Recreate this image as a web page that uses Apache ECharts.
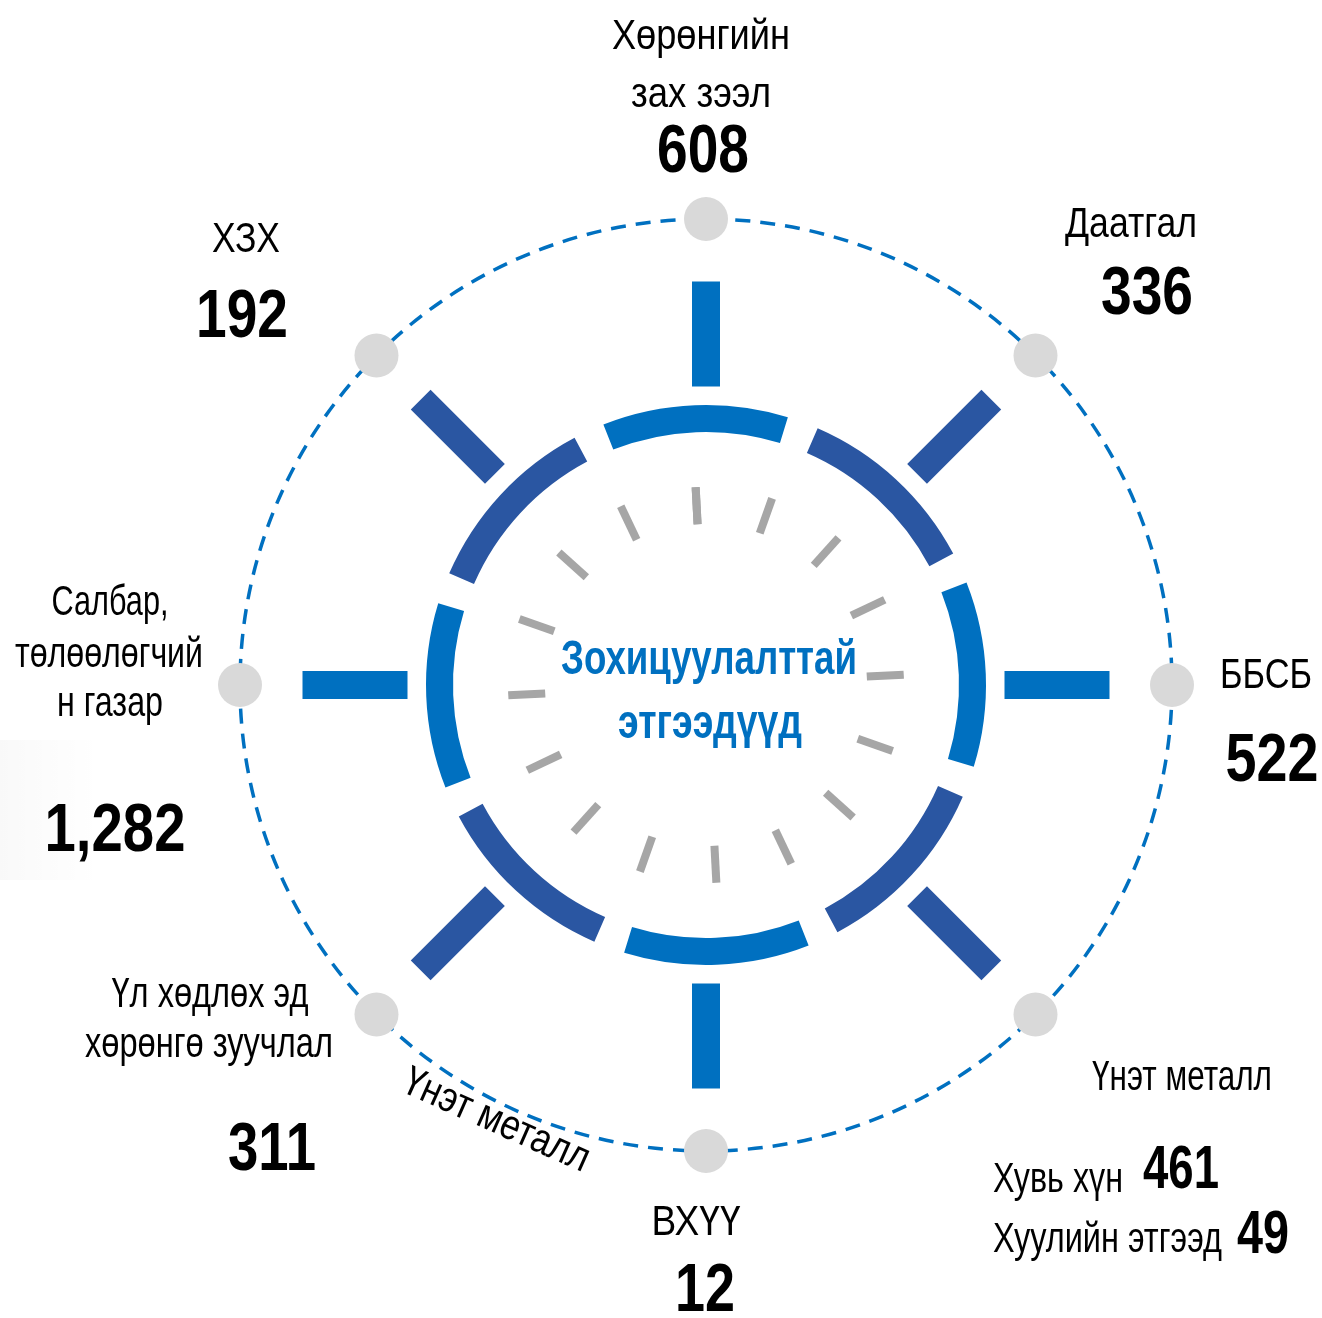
<!DOCTYPE html>
<html>
<head>
<meta charset="utf-8">
<title>Зохицуулалттай этгээдүүд</title>
<script src="https://cdn.jsdelivr.net/npm/echarts@6/dist/echarts.min.js"></script>
<style>
  html, body { margin: 0; padding: 0; background: #fff; }
  #main { width: 1322px; height: 1318px; }
</style>
</head>
<body>
<div id="main"></div>
<script>
  // data
  const sectorNames = [
    ['Хөрөнгийн', 'зах зээл'],
    ['Даатгал'],
    ['ББСБ'],
    ['Үнэт металл'],
    ['ВХҮҮ'],
    ['Үл хөдлөх эд', 'хөрөнгө зуучлал'],
    ['Салбар,', 'төлөөлөгчий', 'н газар'],
    ['ХЗХ']
  ];
  const entityCounts = [608, 336, 522, null, 12, 311, 1282, 192];
  const metalTypes = ['Хувь хүн', 'Хуулийн этгээд'];
  const metalCounts = [461, 49];
  const centerTitle = ['Зохицуулалттай', 'этгээдүүд'];

  const LIGHT = '#0070C0';
  const DARK = '#2A56A2';
  const cx = 706, cy = 685;
  const step = 360 / sectorNames.length;
  const colorOf = i => (i % 2 ? DARK : LIGHT);

  // text helper: squeeze text horizontally so it fits the width seen in the picture
  const ctx = document.createElement('canvas').getContext('2d');
  function label(str, x, base, size, bold, width, opts) {
    opts = opts || {};
    const font = (bold ? 'bold ' : '') + size + 'px "Liberation Sans", Arial, sans-serif';
    ctx.font = font;
    const w = ctx.measureText(str).width;
    return {
      type: 'text', z: 100, silent: true,
      x: x,
      y: opts.middle ? base : base - 0.3 * size,
      scaleX: width / w,
      rotation: opts.rotation || 0,
      style: {
        text: str, font: font, fill: opts.color || '#000',
        textAlign: opts.align || 'center', textVerticalAlign: 'middle'
      }
    };
  }

  // where each sector's texts sit: [x, baseline, width] per name line, then the number
  const nameSpots = [
    [[701, 50, 178], [701, 108, 140]],
    [[1131, 238, 132]],
    [[1266, 689, 92]],
    [[1182, 1091, 180]],
    [[696, 1236, 89]],
    [[210, 1008, 197], [209, 1058, 248]],
    [[110, 616, 117], [109, 668, 188], [110, 717, 106]],
    [[246, 253, 68]]
  ];
  const numSpots = [
    [703, 174, 92, 68], [1147, 316, 92, 68], [1272, 783, 93, 68], null,
    [705, 1313, 60, 68], [272, 1172, 88, 68], [115, 853, 141, 68], [242, 339, 92, 68]
  ];

  const texts = [];
  sectorNames.forEach((lines, i) => {
    lines.forEach((ln, j) => {
      const s = nameSpots[i][j];
      texts.push(label(ln, s[0], s[1], 42, false, s[2]));
    });
    if (entityCounts[i] != null) {
      const n = numSpots[i];
      texts.push(label(entityCounts[i].toLocaleString('en-US'), n[0], n[1], n[3], true, n[2]));
    }
  });
  // Үнэт металл breakdown
  texts.push(label(metalTypes[0], 993, 1193, 42, false, 130, { align: 'left' }));
  texts.push(label(String(metalCounts[0]), 1143, 1190, 62, true, 76, { align: 'left' }));
  texts.push(label(metalTypes[1], 993, 1253, 42, false, 229, { align: 'left' }));
  texts.push(label(String(metalCounts[1]), 1237, 1255, 62, true, 52, { align: 'left' }));
  // slanted label along the dashed circle
  texts.push(label(sectorNames[3][0], 496, 1121, 42, false, 200, { middle: true, rotation: -24 * Math.PI / 180 }));
  // centre title
  texts.push(label(centerTitle[0], 709, 675, 48, true, 296, { color: LIGHT }));
  texts.push(label(centerTitle[1], 710, 739, 48, true, 184, { color: LIGHT }));

  // ring pieces: one arc plus one gap per sector
  const ringData = [];
  sectorNames.forEach((s, i) => {
    ringData.push({ name: s.join(' '), value: step - 6.5, itemStyle: { color: colorOf(i) } });
    ringData.push({ name: 'gap' + i, value: 6.5, itemStyle: { color: 'rgba(0,0,0,0)' } });
  });

  const chart = echarts.init(document.getElementById('main'));
  chart.setOption({
    backgroundColor: '#fff',
    animation: false,
    polar: { center: [cx, cy], radius: 466 },
    angleAxis: {
      type: 'value', min: 0, max: 360, startAngle: 90, clockwise: true,
      axisLine: { show: true, lineStyle: { color: LIGHT, width: 3.5, type: [15, 10] } },
      axisTick: { show: false }, axisLabel: { show: false }, splitLine: { show: false }
    },
    radiusAxis: {
      type: 'value', min: 0, max: 466,
      axisLine: { show: false }, axisTick: { show: false },
      axisLabel: { show: false }, splitLine: { show: false }
    },
    graphic: [
      {
        type: 'rect', z: 0, silent: true,
        shape: { x: 0, y: 740, width: 100, height: 140 },
        style: {
          fill: new echarts.graphic.LinearGradient(0, 0, 1, 0, [
            { offset: 0, color: 'rgba(0,0,0,0.025)' },
            { offset: 1, color: 'rgba(0,0,0,0)' }
          ])
        }
      }
    ].concat(texts),
    series: [
      {
        // gray dashes inside the ring
        type: 'gauge', center: [cx, cy], radius: 198,
        startAngle: 93, endAngle: -267, min: 0, max: 16, splitNumber: 16,
        axisLine: { show: false, lineStyle: { width: 0 } },
        axisTick: { show: false },
        splitLine: { show: true, length: 37, distance: 0, lineStyle: { color: '#A6A6A6', width: 8 } },
        axisLabel: { show: false }, pointer: { show: false }, anchor: { show: false },
        title: { show: false }, detail: { show: false }, silent: true,
        data: []
      },
      {
        type: 'pie', center: [cx, cy], radius: [253, 280],
        startAngle: 90 + 21.5, clockwise: true, silent: true,
        label: { show: false }, labelLine: { show: false },
        emphasis: { disabled: true },
        data: ringData
      },
      {
        // spokes
        type: 'scatter', coordinateSystem: 'polar', symbol: 'rect',
        symbolSize: [28, 105], silent: true,
        data: sectorNames.map((s, i) => ({
          name: s.join(' '), value: [351, i * step], symbolRotate: -i * step,
          itemStyle: { color: colorOf(i), opacity: 1 }
        }))
      },
      {
        // gray dots on the dashed circle
        type: 'scatter', coordinateSystem: 'polar', symbol: 'circle',
        symbolSize: 44, silent: true, z: 5,
        itemStyle: { color: '#D9D9D9', opacity: 1 },
        data: sectorNames.map((s, i) => ({ name: s.join(' '), value: [466, i * step] }))
      }
    ]
  });
</script>
</body>
</html>
